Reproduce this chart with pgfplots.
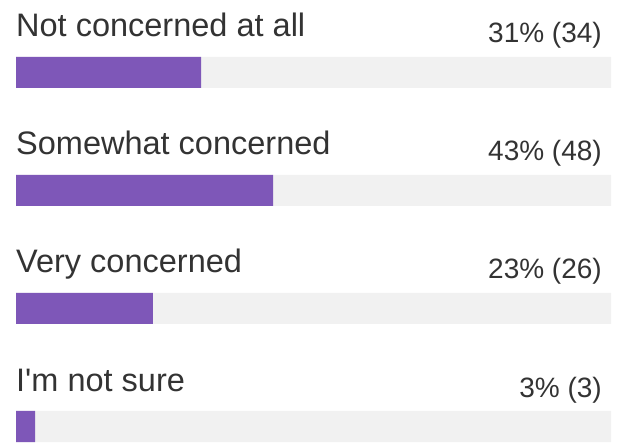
\documentclass[border=0pt]{standalone}
\usepackage{pgfplots}
\pgfplotsset{compat=1.18}
\usepackage{fontspec}
\setmainfont{Liberation Sans}
\definecolor{barpurple}{HTML}{7E57B8}
\definecolor{track}{HTML}{F1F1F1}
\definecolor{txt}{HTML}{333333}
\begin{document}
\begin{tikzpicture}
\begin{axis}[
  scale only axis,
  width=595bp, height=446bp,
  xmin=0, xmax=100,
  ymin=-0.6144, ymax=3.1653,
  y dir=reverse,
  hide axis,
  xbar, bar width=31bp, bar shift=0pt,
  clip=false,
]
\addplot[draw=none, fill=track] coordinates {(100,0) (100,1) (100,2) (100,3)};
\addplot[draw=none, fill=barpurple] coordinates {(31.1,0) (43.2,1) (23.0,2) (3.2,3)};
\node[anchor=base west, inner sep=0pt, text=txt, font=\fontsize{32.5bp}{36bp}\selectfont, yshift=35.5bp] at (axis cs:0,0) {Not concerned at all};
\node[anchor=base west, inner sep=0pt, text=txt, font=\fontsize{32.5bp}{36bp}\selectfont, yshift=35.5bp] at (axis cs:0,1) {Somewhat concerned};
\node[anchor=base west, inner sep=0pt, text=txt, font=\fontsize{32.5bp}{36bp}\selectfont, yshift=35.5bp] at (axis cs:0,2) {Very concerned};
\node[anchor=base west, inner sep=0pt, text=txt, font=\fontsize{32.5bp}{36bp}\selectfont, yshift=35.5bp] at (axis cs:0,3) {I\textquotesingle m not sure};
\node[anchor=base east, inner sep=0pt, text=txt, font=\fontsize{28bp}{34bp}\selectfont, yshift=29.5bp, xshift=-9bp] at (axis cs:100,0) {31\% (34)};
\node[anchor=base east, inner sep=0pt, text=txt, font=\fontsize{28bp}{34bp}\selectfont, yshift=29.5bp, xshift=-9bp] at (axis cs:100,1) {43\% (48)};
\node[anchor=base east, inner sep=0pt, text=txt, font=\fontsize{28bp}{34bp}\selectfont, yshift=29.5bp, xshift=-9bp] at (axis cs:100,2) {23\% (26)};
\node[anchor=base east, inner sep=0pt, text=txt, font=\fontsize{28bp}{34bp}\selectfont, yshift=29.5bp, xshift=-9bp] at (axis cs:100,3) {3\% (3)};
\end{axis}
\pgfresetboundingbox
\path (-16bp,0) rectangle (602bp,446bp);
\end{tikzpicture}
\end{document}
